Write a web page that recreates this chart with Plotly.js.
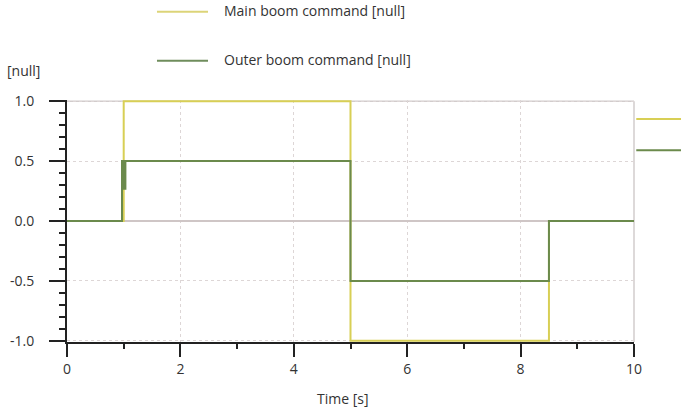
<!DOCTYPE html>
<html>
<head>
<meta charset="utf-8">
<script src="https://cdn.plot.ly/plotly-3.0.1.min.js"></script>
<style>html,body{margin:0;padding:0;background:#fff;}#chart{width:681px;height:410px;}</style>
</head>
<body>
<div id="chart"></div>
<script>
// Data
const mainTime = [0, 1.0, 5.0, 8.5, 10];
const mainCmd = [0, 1, -1, 0, 0];
const outerTime = [0, 0.97, 1.0, 1.03, 5.0, 8.5, 10];
const outerCmd = [0, 0.5, 0.27, 0.5, -0.5, 0, 0];
const seriesNames = ['Main boom command [null]', 'Outer boom command [null]'];
const xTicks = [0, 2, 4, 6, 8, 10];
const xTickLabels = ['0', '2', '4', '6', '8', '10'];
const yTicks = [-1, -0.5, 0, 0.5, 1];
const yTickLabels = ['-1.0', '-0.5', '0.0', '0.5', '1.0'];

const yellow = '#d8cf55';
const green = '#6b8a4c';
const font = {family: 'Open Sans, Noto Sans, sans-serif', size: 14, color: '#333'};

const traces = [
  {x: mainTime, y: mainCmd, mode: 'lines', line: {shape: 'hv', color: yellow, width: 2}, name: seriesNames[0], showlegend: false},
  {x: outerTime, y: outerCmd, mode: 'lines', line: {shape: 'hv', color: green, width: 2}, name: seriesNames[1], showlegend: false}
];

const layout = {
  width: 681, height: 410,
  margin: {l: 67, r: 47, t: 100, b: 68},
  paper_bgcolor: '#fff', plot_bgcolor: '#fff',
  font: font,
  showlegend: false,
  xaxis: {
    range: [0, 10], tickvals: xTicks, ticktext: xTickLabels,
    ticks: 'outside', ticklen: 13, tickwidth: 2, tickcolor: '#222',
    showline: true, linecolor: '#222', linewidth: 2,
    showgrid: true, gridcolor: '#ddd6d6', griddash: 'dot', gridwidth: 1,
    zeroline: false, ticklabelstandoff: 0,
    minor: {dtick: 1, tick0: 0, ticks: 'outside', ticklen: 5, tickwidth: 2, tickcolor: '#222', showgrid: false},
    tickfont: font
  },
  yaxis: {
    range: [-1.01, 1.01], tickvals: yTicks, ticktext: yTickLabels,
    ticks: 'outside', ticklen: 16, tickwidth: 2, tickcolor: '#222',
    showline: true, linecolor: '#222', linewidth: 2,
    showgrid: true, gridcolor: '#ddd6d6', griddash: 'dot', gridwidth: 1,
    zeroline: true, zerolinecolor: '#cfc6c6', zerolinewidth: 1.5,
    ticklabelstandoff: 12,
    minor: {dtick: 0.1, tick0: 0, ticks: 'outside', ticklen: 6, tickwidth: 2, tickcolor: '#222', showgrid: false},
    tickfont: font
  },
  shapes: [
    // top and right frame
    {type: 'line', xref: 'paper', yref: 'y', x0: 0, x1: 1, y0: 1, y1: 1, line: {color: '#d2cccc', width: 1.5}, layer: 'below'},
    {type: 'line', xref: 'paper', yref: 'paper', x0: 1, x1: 1, y0: 0, y1: 0.995, line: {color: '#d2cccc', width: 1.5}, layer: 'below'},
    // legend lines
    {type: 'line', xref: 'paper', yref: 'paper', x0: 0.1587, x1: 0.2487, y0: 1.365, y1: 1.365, line: {color: '#dcd478', width: 2}},
    {type: 'line', xref: 'paper', yref: 'paper', x0: 0.1587, x1: 0.2487, y0: 1.162, y1: 1.162, line: {color: '#6f8d5c', width: 2}},
    // right-side value markers
    {type: 'line', xref: 'paper', yref: 'paper', x0: 1.004, x1: 1.09, y0: 0.921, y1: 0.921, line: {color: yellow, width: 2}},
    {type: 'line', xref: 'paper', yref: 'paper', x0: 1.004, x1: 1.09, y0: 0.7925, y1: 0.7925, line: {color: green, width: 2}}
  ],
  annotations: [
    {text: seriesNames[0], xref: 'paper', yref: 'paper', x: 0.2733, y: 1.37, xanchor: 'left', yanchor: 'middle', showarrow: false, font: font},
    {text: seriesNames[1], xref: 'paper', yref: 'paper', x: 0.2733, y: 1.167, xanchor: 'left', yanchor: 'middle', showarrow: false, font: font},
    {text: '[null]', xref: 'paper', yref: 'paper', x: -0.11, y: 1.12, xanchor: 'left', yanchor: 'middle', showarrow: false, font: font},
    {text: 'Time [s]', xref: 'paper', yref: 'paper', x: 0.487, y: -0.232, xanchor: 'center', yanchor: 'middle', showarrow: false, font: font}
  ]
};

Plotly.newPlot('chart', traces, layout, {displayModeBar: false, staticPlot: true});
</script>
</body>
</html>
